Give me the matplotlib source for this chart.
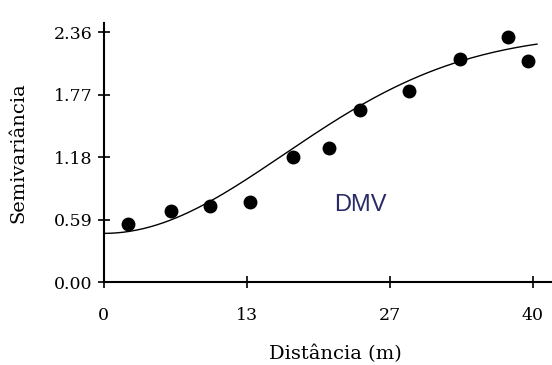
import numpy as np
import matplotlib.pyplot as plt

# semivariogram points
dist = [2.3, 6.3, 9.9, 13.6, 17.6, 21.0, 23.9, 28.5, 33.2, 37.7, 39.6]
semivar = [0.55, 0.67, 0.72, 0.76, 1.18, 1.27, 1.62, 1.80, 2.11, 2.31, 2.09]

# fitted gaussian model (nugget, sill, range)
nugget = 0.46
sill = 2.35
rng = 41.1

xticks = [0, 40 / 3, 80 / 3, 40]
xtick_labels = ['0', '13', '27', '40']
yticks = [0.0, 0.59, 1.18, 1.77, 2.36]
ytick_labels = ['0.00', '0.59', '1.18', '1.77', '2.36']

serif = 'DejaVu Serif'

fig = plt.figure(figsize=(5.52, 3.65), dpi=100)
ax = fig.add_axes([0.188, 0.227, 0.812, 0.71])

h = np.linspace(0, 40.4, 200)
model = nugget + (sill - nugget) * (1 - np.exp(-3 * h ** 2 / rng ** 2))
ax.plot(h, model, color='black', linewidth=1.0)
ax.plot(dist, semivar, linestyle='none', marker='o', markersize=9, color='black')

ax.text(23.9, 0.73, 'DMV', fontsize=17, color='#2a2a66', family='Liberation Sans',
        ha='center', va='center')

ax.set_xlim(0, 41.8)
ax.set_ylim(0, 2.445)
ax.set_xticks(xticks)
ax.set_xticklabels(xtick_labels, family=serif, fontsize=12.5)
ax.set_yticks(yticks)
ax.set_yticklabels(ytick_labels, family=serif, fontsize=12.5)
ax.tick_params(axis='x', direction='inout', length=8, width=1.2, pad=14)
ax.tick_params(axis='y', direction='inout', length=8, width=1.2, pad=4)

for s in ['top', 'right']:
    ax.spines[s].set_visible(False)
for s in ['left', 'bottom']:
    ax.spines[s].set_linewidth(1.5)

ax.set_xlabel('Distância (m)', family=serif, fontsize=14)
ax.set_ylabel('Semivariância', family=serif, fontsize=14)
ax.xaxis.set_label_coords(0.516, -0.243)
ax.yaxis.set_label_coords(-0.17, 0.5)

fig.savefig('out.png', dpi=100)
